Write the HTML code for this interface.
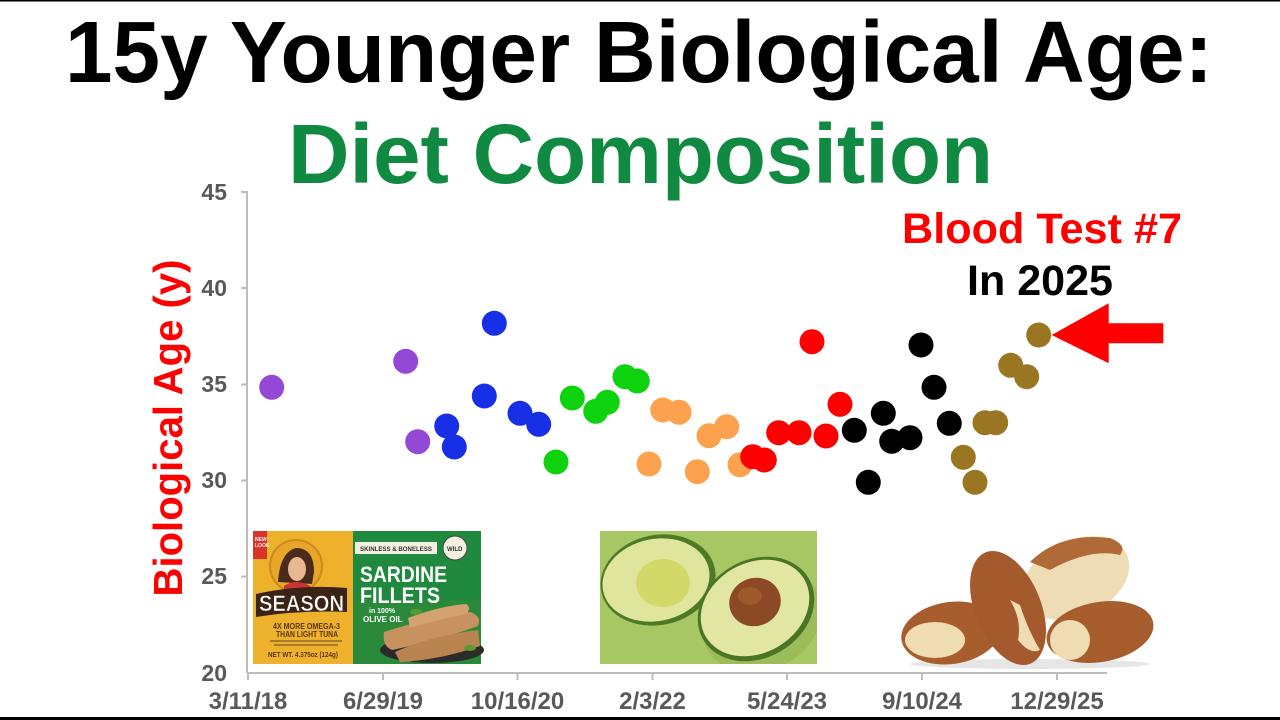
<!DOCTYPE html>
<html><head><meta charset="utf-8"><style>
html,body{margin:0;padding:0;background:#fff;width:1280px;height:720px;overflow:hidden}
svg{display:block}
text{font-family:"Liberation Sans",Arial,sans-serif;font-weight:bold}
</style></head><body>
<svg width="1280" height="720" viewBox="0 0 1280 720" xmlns="http://www.w3.org/2000/svg">
<defs>
<clipPath id="avc"><rect x="600" y="531" width="217" height="133"/></clipPath>
</defs>
<rect width="1280" height="720" fill="#fff"/>
<rect x="0" y="0" width="1280" height="1.5" fill="#000"/>
<rect x="0" y="717" width="1280" height="3" fill="#000"/>

<!-- Titles -->
<text x="65" y="82" font-size="87" fill="#000" textLength="1148" lengthAdjust="spacingAndGlyphs">15y Younger Biological Age:</text>
<text x="288" y="183" font-size="84" fill="#0f8a40" textLength="705" lengthAdjust="spacingAndGlyphs">Diet Composition</text>

<!-- Axis label -->
<text transform="translate(182,428) rotate(-90)" text-anchor="middle" font-size="41" fill="#f00" textLength="337" lengthAdjust="spacingAndGlyphs">Biological Age (y)</text>

<!-- Images: sardine box -->
<g>
<rect x="253" y="531" width="228" height="133" fill="#eeb12b"/>
<rect x="353" y="531" width="128" height="80" fill="#1f8a3d"/>
<rect x="353" y="600" width="128" height="64" fill="#2a8a3a"/>
<rect x="253" y="531" width="14" height="28" fill="#d9342a"/>
<text x="255" y="541" font-size="5" fill="#fff">NEW</text>
<text x="255" y="547" font-size="5" fill="#fff">LOOK</text>
<circle cx="296" cy="566" r="26" fill="#e7a62a" stroke="#c98a1e" stroke-width="2"/>
<path d="M278 582 Q280 552 296 548 Q314 548 314 572 L312 584 Z" fill="#4a2a18"/>
<ellipse cx="297" cy="569" rx="9" ry="12" fill="#e9b892"/>
<path d="M284 586 Q296 578 310 586 L310 592 L284 592 Z" fill="#c33"/>
<path d="M256 594 Q300 584 347 588 L347 612 Q300 610 256 617 Z" fill="#3b2416"/>
<text x="259" y="611" font-size="22" fill="#fff" stroke="#3b2416" stroke-width="0.5" textLength="85" lengthAdjust="spacingAndGlyphs">SEASON</text>
<text x="273" y="629" font-size="8" fill="#5a3516" textLength="67" lengthAdjust="spacingAndGlyphs">4X MORE OMEGA-3</text>
<text x="276" y="637" font-size="8" fill="#5a3516" textLength="62" lengthAdjust="spacingAndGlyphs">THAN LIGHT TUNA</text>
<rect x="270" y="640" width="72" height="2" fill="#a77a30"/>
<rect x="274" y="644" width="64" height="2" fill="#a77a30"/>
<text x="268" y="657" font-size="7" fill="#5a3516" textLength="70" lengthAdjust="spacingAndGlyphs">NET WT. 4.375oz (124g)</text>
<rect x="355" y="542" width="82" height="12" fill="#f3efe2"/>
<text x="360" y="551" font-size="6.5" fill="#333" textLength="72" lengthAdjust="spacingAndGlyphs">SKINLESS &amp; BONELESS</text>
<circle cx="455" cy="548" r="12" fill="#f3efe2" stroke="#444" stroke-width="1"/>
<text x="447" y="551" font-size="6" fill="#333">WILD</text>
<text x="360" y="582" font-size="22" fill="#fff" textLength="87" lengthAdjust="spacingAndGlyphs">SARDINE</text>
<text x="360" y="603" font-size="22" fill="#fff" textLength="80" lengthAdjust="spacingAndGlyphs">FILLETS</text>
<text x="369" y="613" font-size="7" fill="#fff">in 100%</text>
<text x="363" y="622" font-size="8" fill="#fff">OLIVE OIL</text>
<ellipse cx="432" cy="650" rx="52" ry="13" fill="#2b2b2b"/>
<path d="M384 632 Q420 620 470 612 Q482 616 478 626 Q440 640 392 650 Q382 646 384 632 Z" fill="#c89260"/>
<path d="M395 652 Q430 636 478 630 L480 646 Q440 660 400 662 Z" fill="#b9844f"/>
<path d="M408 618 Q440 606 466 604 Q472 608 466 614 Q436 620 410 628 Z" fill="#d4a271"/>
<ellipse cx="416" cy="612" rx="6" ry="3" fill="#5a9a34"/>
<ellipse cx="470" cy="648" rx="6" ry="3" fill="#5a9a34"/>
</g>

<!-- Avocado -->
<g clip-path="url(#avc)">
<rect x="600" y="531" width="217" height="133" fill="#a7c764"/>
<ellipse cx="762" cy="620" rx="62" ry="50" transform="rotate(-28 762 620)" fill="#95b352" opacity="0.6"/>
<ellipse cx="658" cy="580" rx="58" ry="45" transform="rotate(-12 658 580)" fill="#4d7a25"/>
<ellipse cx="656" cy="580" rx="54" ry="41" transform="rotate(-12 656 580)" fill="#dfe59c"/>
<ellipse cx="663" cy="583" rx="27" ry="24" fill="#d3d969"/>
<ellipse cx="756" cy="609" rx="61" ry="49" transform="rotate(-30 756 609)" fill="#4a7524"/>
<ellipse cx="755" cy="608" rx="57" ry="45" transform="rotate(-30 755 608)" fill="#e1e7a3"/>
<ellipse cx="755" cy="602" rx="26" ry="24" transform="rotate(-20 755 602)" fill="#8c4a24"/>
<ellipse cx="750" cy="596" rx="12" ry="9" fill="#a4602f" opacity="0.7"/>
</g>

<!-- Brazil nuts -->
<g>
<ellipse cx="1030" cy="664" rx="120" ry="5" fill="#e6e6e6"/>
<ellipse cx="1076" cy="578" rx="56" ry="38" transform="rotate(-25 1076 578)" fill="#eddcb4"/>
<path d="M1030 562 Q1060 532 1110 538 Q1128 545 1120 555 Q1090 548 1050 570 Z" fill="#b06a38"/>
<ellipse cx="1100" cy="632" rx="54" ry="30" transform="rotate(-10 1100 632)" fill="#a85d2f"/>
<ellipse cx="1070" cy="640" rx="20" ry="20" fill="#efdcb2"/>
<ellipse cx="951" cy="633" rx="50" ry="31" transform="rotate(-8 951 633)" fill="#a85d2f"/>
<ellipse cx="935" cy="640" rx="30" ry="18" fill="#efdcb2"/>
<ellipse cx="1008" cy="608" rx="33" ry="60" transform="rotate(-22 1008 608)" fill="#a45a2d"/>
<path d="M1010 600 Q1022 620 1018 640 Q1030 655 1040 650 Q1028 630 1020 605 Z" fill="#efdcb2"/>
</g>

<!-- Axes -->
<g stroke="#bcbcbc" stroke-width="2" fill="none">
<line x1="247" y1="191" x2="247" y2="673"/>
<line x1="247" y1="673" x2="1107" y2="673"/>
<line x1="241" y1="192" x2="247" y2="192"/>
<line x1="241" y1="288" x2="247" y2="288"/>
<line x1="241" y1="384.5" x2="247" y2="384.5"/>
<line x1="241" y1="480.5" x2="247" y2="480.5"/>
<line x1="241" y1="576.5" x2="247" y2="576.5"/>
<line x1="248" y1="673" x2="248" y2="680"/>
<line x1="383" y1="673" x2="383" y2="680"/>
<line x1="517.5" y1="673" x2="517.5" y2="680"/>
<line x1="652.5" y1="673" x2="652.5" y2="680"/>
<line x1="787" y1="673" x2="787" y2="680"/>
<line x1="922" y1="673" x2="922" y2="680"/>
<line x1="1057" y1="673" x2="1057" y2="680"/>
</g>
<g font-size="23" fill="#595959" text-anchor="end">
<text x="227" y="200">45</text>
<text x="227" y="296">40</text>
<text x="227" y="392">35</text>
<text x="227" y="488">30</text>
<text x="227" y="584">25</text>
<text x="227" y="681">20</text>
</g>
<g font-size="24" fill="#595959" text-anchor="middle">
<text x="248" y="709">3/11/18</text>
<text x="383" y="709">6/29/19</text>
<text x="517.5" y="709">10/16/20</text>
<text x="652.5" y="709">2/3/22</text>
<text x="787" y="709">5/24/23</text>
<text x="922" y="709">9/10/24</text>
<text x="1057" y="709">12/29/25</text>
</g>

<!-- Points -->
<g fill="#9448d6">
<circle cx="271.7" cy="387.3" r="12.5"/>
<circle cx="405.7" cy="361.3" r="12.5"/>
<circle cx="417.7" cy="441.7" r="12.5"/>
</g>
<g fill="#1730e6">
<circle cx="446.7" cy="426" r="12.5"/>
<circle cx="454.3" cy="447" r="12.5"/>
<circle cx="484.3" cy="396" r="12.5"/>
<circle cx="494.3" cy="323.3" r="12.5"/>
<circle cx="520" cy="413.3" r="12.5"/>
<circle cx="538.7" cy="424.3" r="12.5"/>
</g>
<g fill="#0fd20f">
<circle cx="556" cy="462" r="12.5"/>
<circle cx="572.3" cy="398" r="12.5"/>
<circle cx="595.7" cy="411.3" r="12.5"/>
<circle cx="607.3" cy="402.3" r="12.5"/>
<circle cx="625" cy="376.7" r="12.5"/>
<circle cx="637.3" cy="381" r="12.5"/>
</g>
<g fill="#fca24f">
<circle cx="662.7" cy="410" r="12.5"/>
<circle cx="679" cy="412.3" r="12.5"/>
<circle cx="649" cy="464" r="12.5"/>
<circle cx="697.3" cy="471.7" r="12.5"/>
<circle cx="709" cy="435.7" r="12.5"/>
<circle cx="726.7" cy="426.7" r="12.5"/>
<circle cx="740" cy="464.7" r="12.5"/>
</g>
<g fill="#ff0000">
<circle cx="752.7" cy="456.7" r="12.5"/>
<circle cx="764.3" cy="460" r="12.5"/>
<circle cx="778.7" cy="432.7" r="12.5"/>
<circle cx="799" cy="432.7" r="12.5"/>
<circle cx="812" cy="341.7" r="12.5"/>
<circle cx="826" cy="436" r="12.5"/>
<circle cx="840" cy="404.3" r="12.5"/>
</g>
<g fill="#000">
<circle cx="854.3" cy="430.3" r="12.5"/>
<circle cx="868.3" cy="482.3" r="12.5"/>
<circle cx="883.3" cy="413.3" r="12.5"/>
<circle cx="891.7" cy="441.3" r="12.5"/>
<circle cx="910" cy="437.7" r="12.5"/>
<circle cx="921" cy="345" r="12.5"/>
<circle cx="934" cy="387.3" r="12.5"/>
<circle cx="949.3" cy="423.3" r="12.5"/>
</g>
<g fill="#9b7622">
<circle cx="963.3" cy="457.3" r="12.5"/>
<circle cx="975" cy="482.3" r="12.5"/>
<circle cx="985" cy="422.7" r="12.5"/>
<circle cx="995.7" cy="422.7" r="12.5"/>
<circle cx="1010.7" cy="365.3" r="12.5"/>
<circle cx="1026.7" cy="376.7" r="12.5"/>
<circle cx="1038.7" cy="335" r="12.5"/>
</g>

<!-- Arrow -->
<polygon points="1051.7,335 1108.7,303.3 1108.7,323.3 1163.3,323.3 1163.3,343.3 1108.7,343.3 1108.7,363.3" fill="#ff0000"/>

<!-- Annotations -->
<text x="902" y="243" font-size="43" fill="#f00" textLength="280" lengthAdjust="spacingAndGlyphs">Blood Test #7</text>
<text x="967" y="295" font-size="43" fill="#000" textLength="146" lengthAdjust="spacingAndGlyphs">In 2025</text>
</svg>
</body></html>
